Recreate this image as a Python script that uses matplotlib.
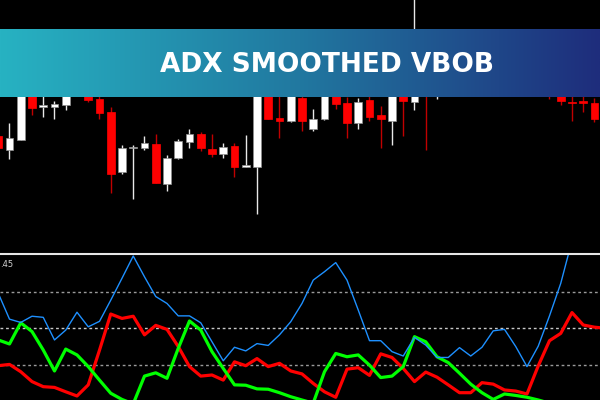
import numpy as np
import matplotlib.pyplot as plt
from matplotlib.colors import LinearSegmentedColormap

# candles (price in points), index -1..52
c_open = [124, 110, 120, 172, 153, 153, 155, 168, 170, 161, 148, 88, 112, 112, 116, 76, 102, 118,
          126, 111, 106, 114, 93, 93, 172, 142, 139, 162, 131, 141, 170, 157, 137, 160, 145, 139,
          172, 158, 175, 170, 170, 188, 175, 198, 186, 172, 194, 180, 168, 175, 172, 158, 159, 157]
c_high = [127, 137, 180, 175, 170, 159, 175, 185, 175, 165, 153, 115, 115, 124, 126, 105, 121, 131,
          128, 126, 117, 117, 125, 180, 175, 170, 172, 166, 151, 180, 174, 163, 162, 168, 154, 175,
          176, 270, 180, 185, 198, 194, 205, 210, 190, 200, 198, 185, 182, 180, 176, 170, 165, 162]
c_low = [110, 101, 120, 145, 143, 141, 150, 165, 158, 141, 67, 86, 61, 110, 77, 69, 101, 112,
         109, 103, 102, 83, 93, 46, 141, 122, 138, 129, 129, 140, 151, 122, 131, 139, 112, 115,
         124, 150, 110, 161, 166, 168, 170, 180, 165, 167, 170, 164, 165, 161, 155, 139, 148, 138]
c_close = [112, 122, 175, 152, 155, 156, 170, 180, 160, 147, 86, 112, 112.5, 117, 77, 102, 119, 126,
           112, 106, 113, 93, 95, 175, 141, 139, 168, 139, 141, 175, 156, 137, 158, 143, 141, 170,
           159, 175, 165, 180, 190, 176, 200, 185, 172, 194, 180, 170, 178, 167, 159, 157.5, 157, 141]

# indicator, index -1..53
adx = [29.6, 22.5, 21.6, 23.3, 23.0, 16.8, 19.5, 24.4, 20.4, 21.9, 27.7,
       33.7, 39.8, 34.1, 28.7, 26.8, 23.4, 23.4, 21.5, 16.3, 11.1,
       14.8, 13.8, 15.8, 15.3, 18.2, 21.8, 26.8, 33.2, 35.5, 38.0,
       33.2, 25.0, 16.6, 16.6, 13.6, 12.4, 17.5, 15.4, 12.0, 12.0,
       14.7, 12.4, 14.8, 19.3, 19.7, 15.0, 9.5, 15.1, 23.4, 32.3,
       44.0, 47.0, 49.0, 50.0]
di_minus = [9.75, 10.1, 8.1, 5.4, 4.0, 3.8, 2.6, 1.45, 4.5, 14.0, 23.9,
            22.7, 23.3, 18.2, 20.8, 19.7, 15.0, 9.5, 6.9, 7.2, 5.8,
            10.8, 9.75, 11.7, 9.5, 10.4, 8.3, 7.5, 4.9, 2.6, 1.1,
            8.8, 9.2, 7.1, 13.0, 12.0, 9.0, 5.4, 8.0, 6.6, 4.5,
            2.35, 2.35, 5.1, 4.7, 3.1, 2.8, 2.0, 9.7, 16.6, 18.6,
            24.3, 20.9, 20.3, 20.0]
di_plus = [16.8, 15.7, 21.5, 19.1, 14.05, 8.3, 14.3, 12.7, 9.5, 5.8, 2.2,
           0.5, -0.7, 6.9, 7.8, 6.3, 14.5, 22.0, 19.5, 13.6, 9.0,
           4.5, 4.4, 3.4, 3.3, 2.35, 1.25, 0.35, -0.5, 8.1, 13.1,
           12.2, 12.7, 9.9, 6.5, 6.9, 9.5, 17.7, 16.3, 12.2, 10.6,
           7.7, 4.7, 2.35, 0.5, 2.0, 1.6, 1.1, 0.35, -0.5, -2.0,
           -3.0, -3.0, -3.0, -3.0]
levels = [10, 20, 30]
title = "ADX SMOOTHED VBOB"

xl = (-0.844, 52.49)

fig = plt.figure(figsize=(6, 4), dpi=100)
fig.patch.set_facecolor('black')

# price panel
ax = fig.add_axes([0, 147 / 400, 1, 253 / 400])
ax.set_facecolor('black')
xs = np.arange(len(c_open)) - 1
for x, o, h, l, c in zip(xs, c_open, c_high, c_low, c_close):
    up = c >= o
    body = 'white' if up else '#ff0000'
    wick = '#e8e8e8' if up else '#c00000'
    ax.vlines(x, l, h, color=wick, lw=1, zorder=1)
    hgt = max(abs(c - o), 0.8)
    ax.bar(x, hgt, bottom=min(o, c), width=0.7, color=body,
           edgecolor='#909090' if up else '#ff0000', linewidth=0.5, zorder=2)
ax.set_xlim(*xl)
ax.set_ylim(7, 260)
ax.axis('off')

# indicator panel
ax2 = fig.add_axes([0, 0, 1, 146 / 400])
ax2.set_facecolor('black')
xi = np.arange(len(adx)) - 1
for lv in levels:
    ax2.axhline(lv, color='#c8c8c8' if lv == 20 else '#9a9a9a', lw=1,
                dashes=(2, 2), zorder=1)
ax2.plot(xi, di_minus, color='#ff0000', lw=2.3, zorder=3)
ax2.plot(xi, di_plus, color='#00ff00', lw=2.3, zorder=3)
ax2.plot(xi, adx, color='#1e90ff', lw=1.0, zorder=4)
ax2.set_xlim(*xl)
ax2.set_ylim(0.35, 40.35)
ax2.axis('off')
ax2.text(0.0, 0.93, '.45', transform=ax2.transAxes, color='#d0d0d0',
         fontsize=6, ha='left', va='center')

# separator line
fig.add_artist(plt.Line2D([0, 1], [146.5 / 400, 146.5 / 400], color='#e6e6e6', lw=1.5))

# banner
axb = fig.add_axes([0, 303 / 400, 1, 68 / 400])
cmap = LinearSegmentedColormap.from_list('ban', ['#27b2c2', '#2178a0', '#1e2d7c'])
axb.imshow(np.linspace(0, 1, 256).reshape(1, -1), aspect='auto', cmap=cmap,
           extent=[0, 1, 0, 1])
axb.set_xlim(0, 1)
axb.set_ylim(0, 1)
axb.axis('off')
axb.text(327 / 600, 0.47, title, color='white', fontsize=19, fontweight='bold',
         family=['DejaVu Sans'], ha='center', va='center')

fig.savefig('out.png', dpi=100, facecolor='black')
